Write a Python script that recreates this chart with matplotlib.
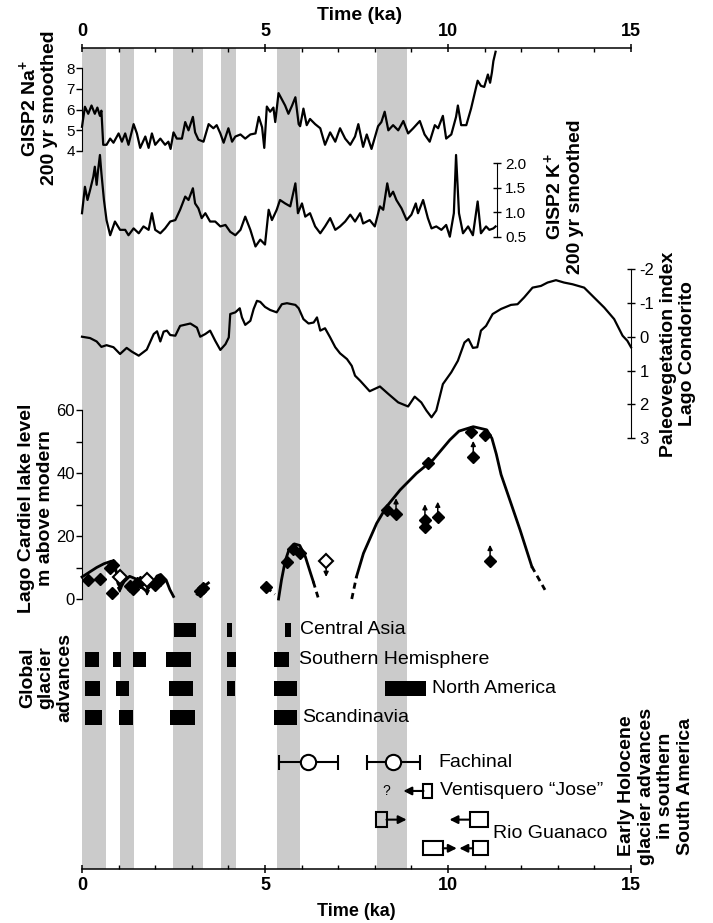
import numpy as np
import matplotlib
matplotlib.use('Agg')
import matplotlib.pyplot as plt
from matplotlib.patches import Rectangle
from matplotlib.ticker import MultipleLocator

plt.rcParams['font.family'] = ['Liberation Sans', 'DejaVu Sans']
plt.rcParams['mathtext.fontset'] = 'custom'
plt.rcParams['mathtext.rm'] = 'Liberation Sans'
plt.rcParams['mathtext.bf'] = 'Liberation Sans:bold'
plt.rcParams['axes.unicode_minus'] = False

# ---- data (ages in ka) ----
bands = [(0.0, 0.66), (1.05, 1.42), (2.48, 3.30), (3.79, 4.21), (5.34, 5.96), (8.07, 8.89)]

na_curve = [(0.0, 5.17), (0.08, 6.14), (0.17, 5.8), (0.26, 6.2), (0.35, 5.8), (0.42, 6.1), (0.49, 5.7),
            (0.53, 5.95), (0.58, 4.3), (0.67, 4.3), (0.77, 4.6), (0.86, 4.4), (1.0, 4.85), (1.09, 4.45),
            (1.18, 4.85), (1.27, 4.3), (1.41, 5.3), (1.5, 4.85), (1.59, 4.15), (1.73, 4.7), (1.82, 4.15),
            (1.91, 4.85), (2.0, 4.3), (2.14, 4.6), (2.27, 4.3), (2.36, 4.45), (2.42, 4.1), (2.5, 4.9),
            (2.59, 4.6), (2.73, 4.6), (2.82, 5.4), (2.91, 5.0), (3.03, 5.65), (3.09, 4.9), (3.18, 4.55),
            (3.32, 4.45), (3.46, 5.3), (3.59, 5.1), (3.68, 5.25), (3.78, 4.85), (3.87, 4.4), (4.0, 5.1),
            (4.1, 4.45), (4.19, 4.7), (4.33, 4.8), (4.46, 4.6), (4.6, 4.8), (4.74, 4.85), (4.83, 5.65),
            (4.92, 5.15), (4.98, 4.15), (5.05, 6.15), (5.14, 5.9), (5.23, 6.1), (5.28, 5.4), (5.37, 6.8),
            (5.46, 6.5), (5.55, 6.2), (5.64, 5.8), (5.74, 6.2), (5.83, 6.6), (5.92, 5.3), (5.96, 5.2),
            (6.05, 6.05), (6.14, 5.25), (6.23, 5.55), (6.37, 5.3), (6.51, 5.1), (6.64, 4.3), (6.78, 4.9),
            (6.92, 4.45), (7.05, 5.1), (7.19, 4.6), (7.33, 4.3), (7.46, 4.7), (7.55, 5.3), (7.68, 4.2),
            (7.78, 4.8), (7.91, 4.1), (8.09, 5.2), (8.18, 5.4), (8.27, 5.9), (8.37, 5.0), (8.5, 5.25),
            (8.64, 5.0), (8.78, 5.45), (8.91, 4.85), (9.05, 5.1), (9.23, 5.45), (9.36, 4.8), (9.5, 4.45),
            (9.64, 5.25), (9.73, 5.1), (9.86, 5.7), (9.95, 4.6), (10.09, 4.8), (10.22, 5.65), (10.27, 6.2),
            (10.36, 5.25), (10.5, 5.25), (10.63, 6.05), (10.81, 7.4), (10.9, 7.15), (10.99, 7.1),
            (11.09, 7.7), (11.15, 7.3), (11.2, 7.8), (11.24, 8.35), (11.3, 8.8)]

k_curve = [(0.0, 0.98), (0.08, 1.52), (0.15, 1.25), (0.22, 1.45), (0.31, 1.73), (0.35, 1.93), (0.40, 1.56),
           (0.44, 1.86), (0.49, 2.17), (0.53, 1.8), (0.6, 1.25), (0.67, 0.84), (0.77, 0.53), (0.9, 0.81),
           (1.04, 0.64), (1.18, 0.64), (1.27, 0.53), (1.41, 0.67), (1.55, 0.57), (1.68, 0.71), (1.82, 0.64),
           (1.91, 0.98), (2.0, 0.64), (2.14, 0.57), (2.27, 0.67), (2.41, 0.81), (2.55, 0.84), (2.68, 1.05),
           (2.82, 1.32), (2.91, 1.25), (3.03, 1.49), (3.09, 1.18), (3.18, 1.08), (3.27, 0.88), (3.37, 0.98),
           (3.5, 0.81), (3.64, 0.81), (3.78, 0.71), (3.92, 0.74), (4.05, 0.6), (4.19, 0.53), (4.33, 0.64),
           (4.46, 0.91), (4.6, 0.64), (4.74, 0.3), (4.87, 0.44), (5.0, 0.34), (5.1, 1.05), (5.19, 0.84),
           (5.32, 1.05), (5.41, 1.25), (5.55, 1.18), (5.69, 1.12), (5.83, 1.59), (5.9, 0.98), (6.01, 1.18),
           (6.1, 0.91), (6.23, 0.98), (6.37, 0.71), (6.51, 0.57), (6.64, 0.71), (6.78, 0.88), (6.92, 0.64),
           (7.05, 0.71), (7.19, 0.81), (7.33, 0.95), (7.46, 0.81), (7.6, 0.98), (7.68, 0.77), (7.86, 0.84),
           (8.0, 0.71), (8.14, 1.12), (8.23, 1.05), (8.34, 1.59), (8.41, 1.32), (8.5, 1.42), (8.59, 1.25),
           (8.73, 1.08), (8.87, 0.84), (9.0, 0.95), (9.12, 1.18), (9.18, 0.98), (9.32, 1.25), (9.45, 0.88),
           (9.55, 0.67), (9.68, 0.71), (9.82, 0.64), (9.95, 0.74), (10.05, 0.5), (10.16, 0.98), (10.22, 2.17),
           (10.3, 0.98), (10.41, 0.57), (10.55, 0.71), (10.68, 0.53), (10.81, 1.22), (10.9, 0.57),
           (11.04, 0.71), (11.13, 0.64), (11.24, 0.67), (11.3, 0.71)]

paleo_curve = [(0.0, 0.0), (0.22, 0.04), (0.40, 0.14), (0.53, 0.3), (0.67, 0.25), (0.86, 0.31), (1.04, 0.51),
               (1.22, 0.33), (1.36, 0.44), (1.55, 0.56), (1.77, 0.38), (1.96, -0.08), (2.05, -0.16),
               (2.14, 0.14), (2.23, -0.15), (2.32, -0.18), (2.41, -0.05), (2.55, -0.03), (2.68, -0.32),
               (2.96, -0.39), (3.14, -0.27), (3.23, 0.0), (3.37, -0.08), (3.5, -0.18), (3.64, 0.12),
               (3.78, 0.39), (3.92, 0.22), (4.01, 0.02), (4.05, -0.67), (4.19, -0.72), (4.31, -0.84),
               (4.37, -0.57), (4.46, -0.35), (4.6, -0.47), (4.69, -0.82), (4.78, -1.06), (4.87, -1.03),
               (5.0, -0.88), (5.14, -0.79), (5.32, -0.72), (5.46, -0.96), (5.6, -0.99), (5.83, -0.94),
               (5.92, -0.84), (6.05, -0.52), (6.19, -0.39), (6.33, -0.42), (6.42, -0.57), (6.51, -0.18),
               (6.64, -0.25), (6.78, 0.02), (6.92, 0.31), (7.05, 0.49), (7.24, 0.66), (7.37, 0.86),
               (7.46, 1.15), (7.6, 1.3), (7.86, 1.61), (8.14, 1.47), (8.37, 1.69), (8.64, 1.94), (8.91, 2.06),
               (9.09, 1.77), (9.27, 1.94), (9.41, 2.18), (9.55, 2.38), (9.68, 2.18), (9.86, 1.4),
               (10.09, 1.05), (10.27, 0.71), (10.45, 0.17), (10.56, 0.07), (10.68, 0.33), (10.8, 0.31),
               (10.9, -0.18), (11.04, -0.32), (11.22, -0.67), (11.45, -0.82), (11.72, -0.94), (11.9, -0.96),
               (12.08, -1.16), (12.31, -1.45), (12.54, -1.5), (12.72, -1.6), (12.95, -1.67), (13.17, -1.6),
               (13.4, -1.55), (13.72, -1.45), (13.99, -1.16), (14.27, -0.86), (14.54, -0.52), (14.77, -0.03),
               (14.9, 0.12), (15.0, 0.31)]

# Lago Cardiel lake level (m above modern)
lake_solid = [
    [(0.0, 7.0), (0.2, 8.5), (0.4, 10.0), (0.6, 11.2), (0.8, 12.0), (0.88, 12.0), (0.93, 9.0), (0.98, 5.0),
     (1.05, 3.5), (1.15, 5.5), (1.3, 7.2), (1.45, 6.5), (1.6, 4.0), (1.75, 2.6), (1.9, 4.5), (2.05, 7.3),
     (2.15, 7.8), (2.3, 6.0), (2.4, 3.0), (2.5, 0.8)],
    [(3.15, 1.5), (3.35, 4.2)],
    [(5.37, 0.0), (5.45, 6.0), (5.55, 12.0), (5.65, 15.5), (5.8, 17.5), (5.95, 17.0), (6.1, 13.5),
     (6.25, 8.0), (6.32, 5.5)],
    [(7.5, 7.1), (7.69, 14.5), (8.05, 24.0), (8.32, 29.3), (8.69, 34.6), (9.14, 39.9), (9.6, 44.3),
     (10.05, 50.5), (10.3, 53.3), (10.69, 54.7), (11.06, 53.7), (11.2, 51.0), (11.32, 46.0),
     (11.45, 39.5), (11.69, 31.4), (11.97, 21.9), (12.29, 10.3)],
]
lake_dashed = [
    [(3.35, 4.2), (3.5, 5.5)],
    [(5.04, 3.7), (5.27, 1.5)],
    [(6.32, 5.5), (6.45, 0.5)],
    [(7.37, 0.0), (7.5, 7.1)],
    [(12.29, 10.3), (12.65, 2.9)],
]
lake_filled = [(0.17, 6.0), (0.49, 6.2), (0.77, 10.0), (0.85, 10.8), (0.81, 2.0), (1.31, 4.1), (1.4, 3.1),
               (1.49, 5.0), (1.58, 5.5), (2.0, 4.4), (2.13, 6.0), (3.22, 2.6), (3.3, 3.4), (5.04, 3.7),
               (5.59, 11.9), (5.77, 15.8), (5.96, 14.7), (8.34, 28.3), (9.37, 23.0), (9.46, 43.1),
               (10.64, 53.1), (11.01, 52.1)]
lake_min = [(8.58, 27.0), (9.37, 25.1), (9.72, 25.9), (10.69, 45.2), (11.15, 12.2)]   # arrow up
lake_max = [(1.03, 7.0), (1.78, 6.1), (6.67, 12.2)]                                   # arrow down

# Global glacier advances (start, end)
regions = ['Central Asia', 'Southern Hemisphere', 'North America', 'Scandinavia']
adv_central_asia = [(2.51, 3.11), (3.95, 4.09), (5.56, 5.70)]
adv_southern = [(0.08, 0.47), (0.84, 1.06), (1.38, 1.75), (2.29, 2.97), (3.97, 4.2), (5.25, 5.66)]
adv_north_america = [(0.09, 0.49), (0.93, 1.28), (2.38, 3.02), (3.95, 4.17), (5.25, 5.87), (8.28, 9.4)]
adv_scandinavia = [(0.09, 0.56), (1.01, 1.40), (2.40, 3.09), (5.25, 5.87)]
advances = [adv_central_asia, adv_southern, adv_north_america, adv_scandinavia]

# Early Holocene advances in southern South America
fachinal_age = [6.18, 8.51]
fachinal_lo = [5.39, 7.79]
fachinal_hi = [7.0, 9.23]
sa_boxes = [(1, 9.33, 9.55), (2, 8.02, 8.32), (2, 10.6, 11.1), (3, 9.33, 9.86), (3, 10.68, 11.1)]
sa_arrows = [(1, 9.33, 8.78), (2, 8.32, 8.87), (2, 10.6, 10.04), (3, 9.86, 10.24), (3, 10.68, 10.31)]

# ---- layout (pixels of a 713x923 canvas) ----
W, H = 713, 923
X0, X1 = 82, 631
FRAME_TOP, FRAME_BOT = 48, 869

fig = plt.figure(figsize=(W / 100, H / 100), dpi=100)


def add_panel(top_px, bot_px):
    a = fig.add_axes([X0 / W, 1 - bot_px / H, (X1 - X0) / W, (bot_px - top_px) / H])
    a.set_facecolor('none')
    a.set_xlim(0, 15)
    a.xaxis.set_visible(False)
    for s in a.spines.values():
        s.set_visible(False)
    return a


def calib(a, va, pa, vb, pb, top_px, bot_px):
    slope = (vb - va) / (pb - pa)
    a.set_ylim(va + (bot_px - pa) * slope, va + (top_px - pa) * slope)


def ftext(xp, yp, s, **kw):
    fig.text(xp / W, 1 - yp / H, s, **kw)


# frame with time axes and grey bands
frame = fig.add_axes([X0 / W, 1 - FRAME_BOT / H, (X1 - X0) / W, (FRAME_BOT - FRAME_TOP) / H])
frame.set_xlim(0, 15)
frame.set_ylim(0, 1)
for side in ['left', 'right']:
    frame.spines[side].set_visible(False)
for side in ['top', 'bottom']:
    frame.spines[side].set_linewidth(1.1)
frame.set_yticks([])
frame.xaxis.set_major_locator(MultipleLocator(5))
frame.xaxis.set_minor_locator(MultipleLocator(1))
frame.tick_params(axis='x', which='both', top=True, bottom=True, labeltop=True, labelbottom=True)
frame.tick_params(axis='x', which='major', direction='inout', length=6, width=1.1, pad=3, labelsize=13)
frame.tick_params(axis='x', which='minor', direction='in', length=3, width=1.0)
for lab in frame.get_xticklabels():
    lab.set_fontweight('bold')
for a0, a1 in bands:
    frame.axvspan(a0, a1, color='#cbcbcb', lw=0, zorder=0)
ftext(360, 16, 'Time (ka)', ha='center', va='center', fontsize=14, fontweight='bold')
ftext(356, 911, 'Time (ka)', ha='center', va='center', fontsize=13, fontweight='bold')

# GISP2 Na+
ax_na = add_panel(40, 160)
calib(ax_na, 4, 151, 8, 68.3, 40, 160)
na = np.array(na_curve).T
ax_na.plot(na[0], na[1], color='k', lw=1.6, clip_on=False)
ax_na.spines['left'].set_visible(True)
ax_na.spines['left'].set_bounds(4, 8)
ax_na.set_yticks([4, 5, 6, 7, 8])
ax_na.tick_params(axis='y', direction='out', length=4, width=1, pad=1, labelsize=11)
ftext(38, 108, 'GISP2 Na$^\\mathbf{+}$\n200 yr smoothed', rotation=90, ha='center', va='center',
      multialignment='center', fontsize=14, fontweight='bold', linespacing=1.1)

# GISP2 K+
ax_k = add_panel(140, 260)
calib(ax_k, 0.5, 236.7, 2.0, 163.3, 140, 260)
kk = np.array(k_curve).T
ax_k.plot(kk[0], kk[1], color='k', lw=1.6, clip_on=False)
ax_k.spines['right'].set_visible(True)
ax_k.spines['right'].set_position(('data', 11.33))
ax_k.spines['right'].set_bounds(0.5, 2.0)
ax_k.yaxis.tick_right()
ax_k.set_yticks([0.5, 1.0, 1.5, 2.0])
ax_k.set_yticklabels(['0.5', '1.0', '1.5', '2.0'])
ax_k.tick_params(axis='y', direction='inout', length=6, width=1, pad=3, labelsize=11)
ftext(563, 197, 'GISP2 K$^\\mathbf{+}$\n200 yr smoothed', rotation=90, ha='center', va='center',
      multialignment='center', fontsize=14, fontweight='bold', linespacing=1.1)

# Paleovegetation index
ax_p = add_panel(240, 450)
calib(ax_p, -2, 269, 3, 438.3, 240, 450)
pp = np.array(paleo_curve).T
ax_p.plot(pp[0], pp[1], color='k', lw=1.6, clip_on=False)
ax_p.spines['right'].set_visible(True)
ax_p.spines['right'].set_bounds(-2, 3)
ax_p.yaxis.tick_right()
ax_p.set_yticks([-2, -1, 0, 1, 2, 3])
ax_p.tick_params(axis='y', direction='inout', length=6, width=1, pad=3, labelsize=12)
ftext(678, 354, 'Paleovegetation index\nLago Condorito', rotation=90, ha='center', va='center',
      multialignment='center', fontsize=14, fontweight='bold', linespacing=1.1)

# Lago Cardiel lake level
ax_l = add_panel(400, 612)
calib(ax_l, 0, 599, 60, 410, 400, 612)
for seg in lake_solid:
    s = np.array(seg).T
    ax_l.plot(s[0], s[1], color='k', lw=2, clip_on=False)
for seg in lake_dashed:
    s = np.array(seg).T
    ax_l.plot(s[0], s[1], color='k', lw=2, ls=(0, (2.2, 1.6)), clip_on=False)
lf = np.array(lake_filled + lake_min).T
ax_l.plot(lf[0], lf[1], 'D', color='k', ms=6.5, clip_on=False, zorder=4)
lo = np.array(lake_max).T
ax_l.plot(lo[0], lo[1], 'D', mfc='white', mec='k', mew=1.5, ms=7, clip_on=False, zorder=4)
for x, y in lake_min:
    ax_l.annotate('', xy=(x, y + 5.0), xytext=(x, y),
                  arrowprops=dict(arrowstyle='-|>', color='k', lw=1.1, mutation_scale=7,
                                  shrinkA=0, shrinkB=0))
for x, y in lake_max:
    ax_l.annotate('', xy=(x, y - 5.2), xytext=(x, y - 1.4),
                  arrowprops=dict(arrowstyle='-|>', color='k', lw=1.1, mutation_scale=7,
                                  shrinkA=0, shrinkB=0))
ax_l.spines['left'].set_visible(True)
ax_l.spines['left'].set_bounds(0, 60)
ax_l.set_yticks([0, 20, 40, 60])
ax_l.yaxis.set_minor_locator(MultipleLocator(10))
ax_l.tick_params(axis='y', which='both', direction='out', length=4, width=1, pad=1, labelsize=12)
ftext(36, 508, 'Lago Cardiel lake level\nm above modern', rotation=90, ha='center', va='center',
      multialignment='center', fontsize=14, fontweight='bold', linespacing=1.1)

# Global glacier advances
ax_g = add_panel(612, 740)
calib(ax_g, 0, 630, 3, 717.7, 612, 740)
ax_g.set_yticks([])
bar_h = 0.51
for i, spans in enumerate(advances):
    ax_g.broken_barh([(a0, a1 - a0) for a0, a1 in spans], (i - bar_h / 2, bar_h), facecolors='k')
row_label_x = [5.96, 5.93, 9.55, 6.01]
for i, name in enumerate(regions):
    ax_g.text(row_label_x[i], i, name, ha='left', va='center', fontsize=14)
ftext(46, 678, 'Global\nglacier\nadvances', rotation=90, ha='center', va='center',
      multialignment='center', fontsize=14, fontweight='bold', linespacing=1.12)

# Early Holocene glacier advances in southern South America
ax_s = add_panel(742, 869)
calib(ax_s, 0, 762.3, 3, 848.3, 742, 869)
ax_s.set_yticks([])
fa = np.array(fachinal_age)
ax_s.errorbar(fa, np.zeros_like(fa), xerr=[fa - np.array(fachinal_lo), np.array(fachinal_hi) - fa],
              fmt='o', ms=11, mfc='white', mec='k', mew=1.5, ecolor='k', elinewidth=1.5,
              capsize=5.4, capthick=1.5, zorder=3)
box_h = 0.5
for row, a0, a1 in sa_boxes:
    ax_s.add_patch(Rectangle((a0, row - box_h / 2), a1 - a0, box_h, fill=False, ec='k', lw=1.5, zorder=3))
for row, a0, a1 in sa_arrows:
    ax_s.annotate('', xy=(a1, row), xytext=(a0, row),
                  arrowprops=dict(arrowstyle='-|>', color='k', lw=1.5, mutation_scale=12,
                                  shrinkA=0, shrinkB=0))
ax_s.text(8.32, 1, '?', ha='center', va='center', fontsize=10)
ax_s.text(9.73, 0, 'Fachinal', ha='left', va='center', fontsize=14)
ax_s.text(9.78, 1, 'Ventisquero \u201cJose\u201d', ha='left', va='center', fontsize=14)
ax_s.text(11.23, 2.5, 'Rio Guanaco', ha='left', va='center', fontsize=14)
ftext(656, 786, 'Early Holocene\nglacier advances\nin southern\nSouth America', rotation=90,
      ha='center', va='center', multialignment='center', fontsize=14, fontweight='bold', linespacing=1.18)

fig.savefig('out.png', dpi=100)
